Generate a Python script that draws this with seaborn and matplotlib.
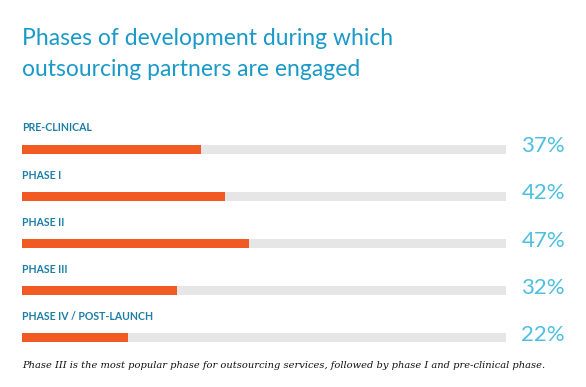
import matplotlib
matplotlib.use("Agg")
import matplotlib.pyplot as plt
import seaborn as sns
import pandas as pd

categories = ["PRE-CLINICAL", "PHASE I", "PHASE II", "PHASE III", "PHASE IV / POST-LAUNCH"]
values = [37, 42, 47, 32, 22]
track = [100, 100, 100, 100, 100]
title_lines = ["Phases of development during which", "outsourcing partners are engaged"]
note = "Phase III is the most popular phase for outsourcing services, followed by phase I and pre-clinical phase."

sns.set_theme(style="white")
plt.rcParams["font.family"] = ["Lato", "DejaVu Sans"]

df = pd.DataFrame({"category": categories, "value": values, "track": track})

fig = plt.figure(figsize=(5.86, 3.87), dpi=100)
W, H = 586, 387
left, right = 22, 506
ytop, ybot = 125.4, 361.6
ax = fig.add_axes([left / W, 1 - ybot / H, (right - left) / W, (ybot - ytop) / H])

sns.barplot(data=df, x="track", y="category", color="#e6e6e6", width=0.19, ax=ax,
            orient="h", saturation=1, edgecolor="none")
sns.barplot(data=df, x="value", y="category", color="#f15a22", width=0.19, ax=ax,
            orient="h", saturation=1, edgecolor="none")

ax.set_xlim(0, 100)
ax.set_ylim(4.5, -0.5)
ax.axis("off")

for i, (c, v) in enumerate(zip(categories, values)):
    ax.text(0, i - 0.45, c, ha="left", va="center", fontsize=7.6, fontweight="bold",
            color="#1c7ea6", clip_on=False)
    ax.text(103.2, i - 0.06, f"{v}%", ha="left", va="center", fontsize=16,
            fontweight="normal", color="#4dbfe0", clip_on=False)

for k, line in enumerate(title_lines):
    fig.text(22 / W, 1 - (45 + 31 * k) / H, line, ha="left", va="baseline",
             fontsize=16.5, color="#1a9ac9")
fig.text(22 / W, 1 - 365 / H, note, ha="left", va="center", fontsize=7.15,
         style="italic", color="#111111", family=["DejaVu Serif"])

fig.savefig("out.png", dpi=100)
